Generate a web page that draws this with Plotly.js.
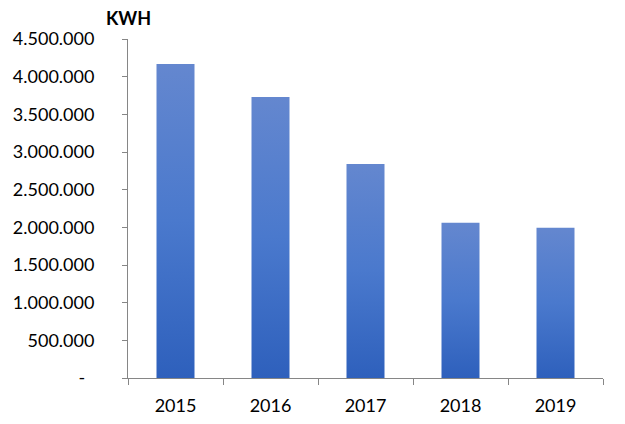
<!DOCTYPE html>
<html>
<head>
<meta charset="utf-8">
<script src="https://cdn.plot.ly/plotly-3.0.1.min.js"></script>
<style>html,body{margin:0;padding:0;background:#fff;}</style>
</head>
<body>
<div id="chart" style="width:625px;height:424px;"></div>
<script>
const years = ['2015', '2016', '2017', '2018', '2019'];
const kwh = [4168000, 3731000, 2842000, 2060000, 1993000];
const yTickVals = [0, 500000, 1000000, 1500000, 2000000, 2500000, 3000000, 3500000, 4000000, 4500000];
const yTickText = ['-\u00a0\u00a0', '500.000', '1.000.000', '1.500.000', '2.000.000', '2.500.000', '3.000.000', '3.500.000', '4.000.000', '4.500.000'];
const unitLabel = 'KWH';

const font = 'Lato, "Open Sans", sans-serif';
const data = [{
  type: 'bar',
  x: years,
  y: kwh,
  width: 0.4,
  marker: {color: '#4a76c9', line: {width: 0}},
  hoverinfo: 'x+y'
}];
const layout = {
  width: 625, height: 424,
  margin: {l: 128, r: 22, t: 39, b: 46, pad: 0},
  paper_bgcolor: '#ffffff', plot_bgcolor: '#ffffff',
  showlegend: false,
  font: {family: font, size: 18, color: '#000000'},
  xaxis: {
    type: 'category',
    showgrid: false, zeroline: false,
    showline: true, linecolor: '#868686', linewidth: 1,
    ticks: 'outside', ticklen: 6, tickcolor: '#868686', tickson: 'boundaries',
    tickfont: {family: font, size: 18, color: '#000'},
    ticklabelstandoff: 11
  },
  yaxis: {
    range: [0, 4500000],
    tickvals: yTickVals, ticktext: yTickText,
    showgrid: false, zeroline: false,
    showline: true, linecolor: '#868686', linewidth: 1,
    ticks: 'outside', ticklen: 5, tickcolor: '#868686',
    tickfont: {family: font, size: 18, color: '#000'},
    ticklabelstandoff: 24
  },
  annotations: [{
    text: '<b>' + unitLabel + '</b>', xref: 'paper', yref: 'paper',
    x: 0, y: 1.0, xanchor: 'center', yanchor: 'bottom', yshift: 8,
    showarrow: false, font: {family: font, size: 18, color: '#000'}
  }]
};
Plotly.newPlot('chart', data, layout, {displayModeBar: false, staticPlot: true}).then(function (gd) {
  const svg = gd.querySelector('svg.main-svg');
  const ns = 'http://www.w3.org/2000/svg';
  let defs = svg.querySelector('defs');
  if (!defs) { defs = document.createElementNS(ns, 'defs'); svg.insertBefore(defs, svg.firstChild); }
  const grad = document.createElementNS(ns, 'linearGradient');
  grad.setAttribute('id', 'barGrad');
  grad.setAttribute('x1', '0'); grad.setAttribute('y1', '0');
  grad.setAttribute('x2', '0'); grad.setAttribute('y2', '1');
  [['0', '#6487cf'], ['0.5', '#4a79cd'], ['1', '#2e60bc']].forEach(function (s) {
    const st = document.createElementNS(ns, 'stop');
    st.setAttribute('offset', s[0]); st.setAttribute('stop-color', s[1]);
    grad.appendChild(st);
  });
  defs.appendChild(grad);
  gd.querySelectorAll('.bars .point path').forEach(function (p) {
    p.style.fill = 'url(#barGrad)';
    p.style.fillOpacity = '1';
  });
});
</script>
</body>
</html>
